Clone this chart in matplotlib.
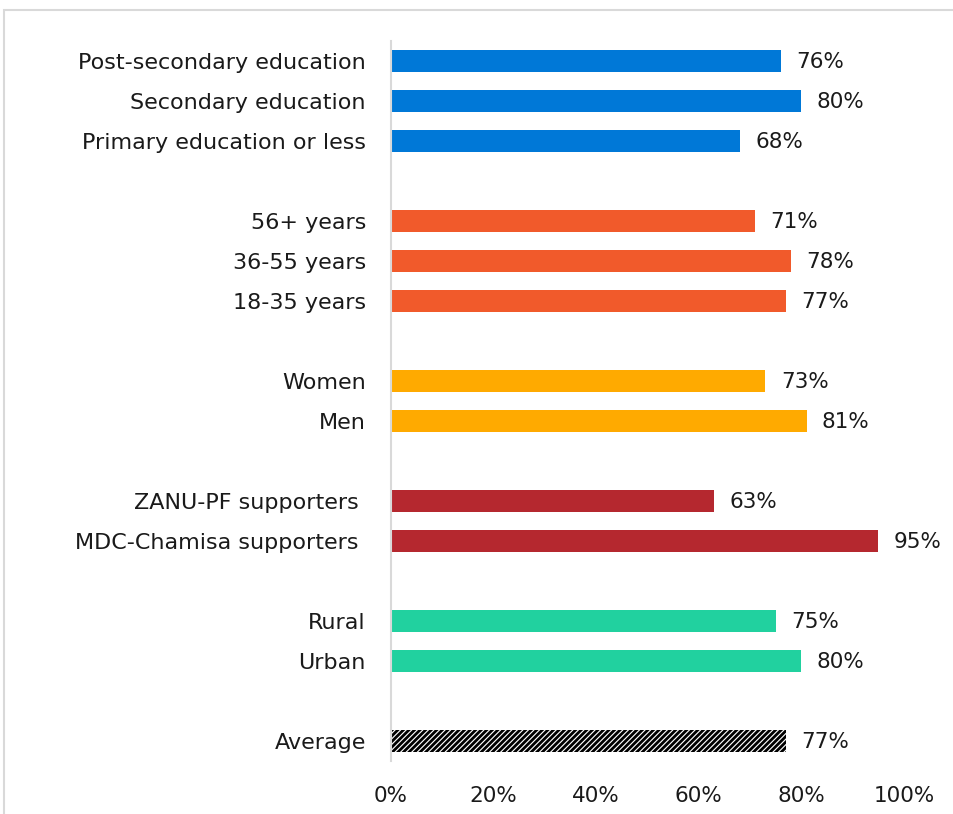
import matplotlib.pyplot as plt
from matplotlib.patches import Rectangle
from matplotlib.ticker import PercentFormatter

plt.rcParams['font.family'] = ['DejaVu Sans']
plt.rcParams['hatch.linewidth'] = 2.0

labels = ["Post-secondary education", "Secondary education", "Primary education or less",
          "56+ years", "36-55 years", "18-35 years",
          "Women", "Men",
          "ZANU-PF supporters ", "MDC-Chamisa supporters ",
          "Rural", "Urban",
          "Average"]
values = [76, 80, 68, 71, 78, 77, 73, 81, 63, 95, 75, 80, 77]
groups = [0, 0, 0, 1, 1, 1, 2, 2, 3, 3, 4, 4, 5]
group_colors = ["#0078D7", "#F15A2B", "#FFAA00", "#B5282F", "#21D19F", "white"]

# row positions with a blank row between groups
rows = []
r = 0
prev = groups[0]
for g in groups:
    if g != prev:
        r += 1
        prev = g
    rows.append(r)
    r += 1

fig = plt.figure(figsize=(9.54, 8.14), dpi=100)
ax = fig.add_axes([391 / 954, 53 / 814, 513 / 954, 720 / 814])

for y, v, g in zip(rows, values, groups):
    if g == 5:
        ax.barh(y, v, height=0.55, color="white", edgecolor="black", hatch="//////", linewidth=0)
    else:
        ax.barh(y, v, height=0.55, color=group_colors[g])
    ax.annotate(f"{v}%", (v, y), xytext=(11, -1), textcoords="offset points",
                va="center", ha="left", fontsize=15.5, color="#1a1a1a")

ax.set_ylim(rows[-1] + 0.5, -0.5)
ax.set_xlim(0, 100)
ax.set_yticks(rows)
ax.set_yticklabels(labels, fontsize=16, color="#1a1a1a")
ax.set_xticks(range(0, 101, 20))
ax.xaxis.set_major_formatter(PercentFormatter(decimals=0))
ax.tick_params(axis="x", labelsize=15.5, length=0, pad=18, colors="#1a1a1a")
ax.tick_params(axis="y", length=0, pad=18)
for s in ["top", "right", "bottom"]:
    ax.spines[s].set_visible(False)
ax.spines["left"].set_color("#D9D9D9")
ax.spines["left"].set_linewidth(1.5)

fig.patches.append(Rectangle((4 / 954, -0.1), 1.2, 1.1 - 10 / 814, transform=fig.transFigure,
                             fill=False, edgecolor="#D9D9D9", linewidth=1.5))

fig.savefig("out.png", dpi=100)
